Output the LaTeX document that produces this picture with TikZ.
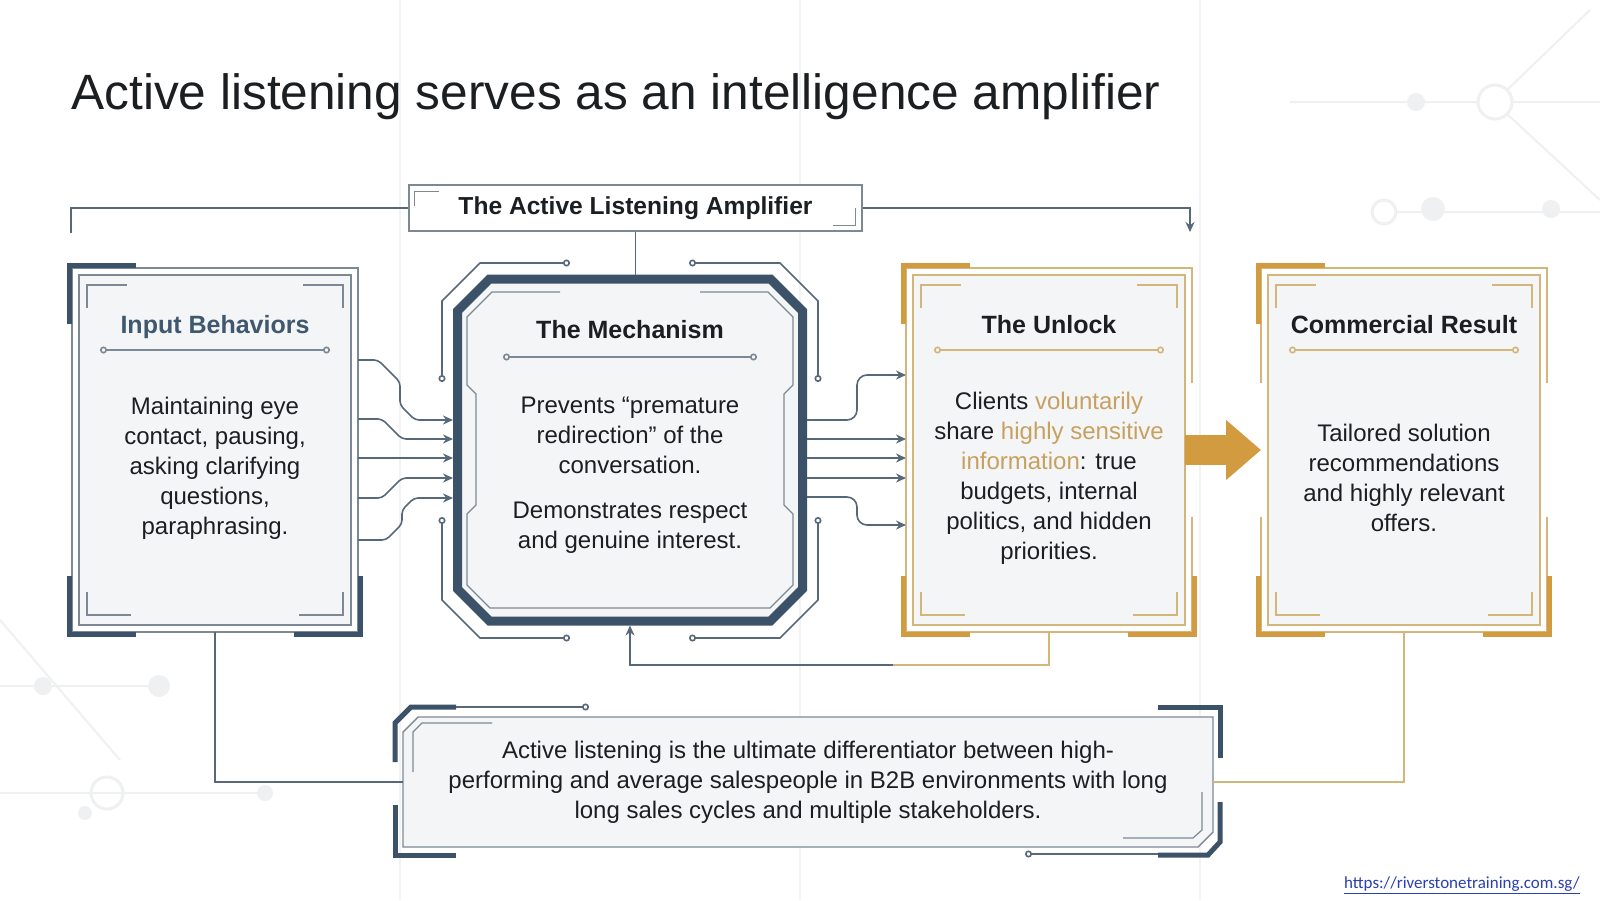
\documentclass[tikz,border=0pt]{standalone}
\usepackage{fontspec}
\setmainfont{Liberation Sans}
\newfontfamily\urlfont{Carlito}
\usetikzlibrary{arrows.meta,positioning}
\definecolor{inkblack}{HTML}{1C1F22}
\definecolor{slatedark}{HTML}{3C5268}
\definecolor{slatetext}{HTML}{40586F}
\definecolor{wiregrey}{HTML}{56687A}
\definecolor{hairgrey}{HTML}{7D8895}
\definecolor{goldfill}{HTML}{D39B3F}
\definecolor{goldline}{HTML}{D4B57C}
\definecolor{goldtext}{HTML}{C8A060}
\definecolor{panelgrey}{HTML}{F3F5F6}
\definecolor{ghostgrey}{HTML}{EEF0F2}
\definecolor{gridgrey}{HTML}{F2F3F5}
\definecolor{linkblue}{HTML}{2B3FB5}

\newcommand{\cardframe}[3]{%
  \fill[panelgrey] ([shift={(3.5pt,3.5pt)}]#1.south west) rectangle ([shift={(-3.5pt,-3.5pt)}]#1.north east);
  \draw[#3,line width=0.6pt] ([shift={(3.5pt,3.5pt)}]#1.south west) rectangle ([shift={(-3.5pt,-3.5pt)}]#1.north east);
  \draw[#3,line width=0.6pt] ([shift={(7.5pt,-20pt)}]#1.north west) |- ++(20pt,11.5pt);
  \draw[#3,line width=0.6pt] ([shift={(-7.5pt,-20pt)}]#1.north east) |- ++(-20pt,11.5pt);
  \draw[#3,line width=0.6pt] ([shift={(7.5pt,20pt)}]#1.south west) |- ++(22pt,-11.5pt);
  \draw[#3,line width=0.6pt] ([shift={(-7.5pt,20pt)}]#1.south east) |- ++(-22pt,-11.5pt);
  \draw[#2,line width=2.5pt] ([shift={(-1.25pt,-28pt)}]#1.north west) |- ([shift={(32pt,1.25pt)}]#1.north west);
  \draw[#2,line width=2.5pt] ([shift={(-1.25pt,28pt)}]#1.south west) |- ([shift={(32pt,-1.25pt)}]#1.south west);
  \draw[#2,line width=2.5pt] ([shift={(1.25pt,28pt)}]#1.south east) |- ([shift={(-32pt,-1.25pt)}]#1.south east);
  \draw[#3,line width=0.8pt,{Circle[open,length=3.5pt]}-{Circle[open,length=3.5pt]}]
    ([shift={(14pt,-41pt)}]#1.north west) -- ([shift={(-14pt,-41pt)}]#1.north east);
}

\begin{document}
\begin{tikzpicture}[x=0.5pt,y=-0.5pt,
  card/.style={draw=#1,line width=0.6pt,fill=white,minimum width=143pt,
               minimum height=182pt,inner sep=0pt,outer sep=0pt},
  wire/.style={draw=wiregrey,line width=0.8pt},
  goldwire/.style={draw=goldline,line width=0.8pt},
  arrowtip/.style={-{Stealth[length=5pt,width=4.5pt]}},
  pinends/.style={{Circle[open,length=3.5pt]}-{Circle[open,length=3.5pt]}},
  ttl/.style={anchor=base,inner sep=0pt,text=inkblack,
              font=\bfseries\fontsize{12.5}{15}\selectfont},
  body/.style={align=center,inner sep=0pt,text=inkblack,
               font=\fontsize{12}{15}\selectfont}]

\useasboundingbox[fill=white] (0,0) rectangle (1600,900);

% faint backdrop
\draw[gridgrey,line width=0.6pt] (400,0) -- (400,900) (800,0) -- (800,900) (1200,0) -- (1200,900);
\draw[ghostgrey,line width=1pt] (1290,102) -- (1478,102) (1512,102) -- (1600,102)
  (1507,90) -- (1590,10) (1507,114) -- (1600,200) (1396,212) -- (1600,212)
  (0,686) -- (159,686) (0,793) -- (265,793) (0,620) -- (120,760);
\fill[ghostgrey] (1416,102) circle[radius=9] (1433,209) circle[radius=12] (1551,209) circle[radius=9]
  (43,686) circle[radius=9] (159,686) circle[radius=11] (265,793) circle[radius=8] (85,813) circle[radius=7];
\draw[ghostgrey,line width=1.5pt] (1495,102) circle[radius=17] (1384,212) circle[radius=12] (107,793) circle[radius=16];

% title
\node[anchor=base west,inner sep=0pt,text=inkblack,font=\fontsize{24.8}{30}\selectfont]
  (title) at (71,109) {Active listening serves as an intelligence amplifier};

% cards
\node[card=hairgrey] (input) at (215,450) {};
\cardframe{input}{slatedark}{hairgrey}
\node[ttl,text=slatetext] at ([yshift=-32.5pt]input.north) {Input Behaviors};
\node[body] at ([yshift=-9pt]input.center)
  {Maintaining eye\\ contact, pausing,\\ asking clarifying\\ questions,\\ paraphrasing.};

\node[card=goldline] (unlock) at (1049,450) {};
\cardframe{unlock}{goldfill}{goldline}
\node[ttl] at ([yshift=-32.5pt]unlock.north) {The Unlock};
\node[body] at ([yshift=-14pt]unlock.center)
  {Clients {\color{goldtext}voluntarily}\\ share {\color{goldtext}highly sensitive}\\
   {\color{goldtext}information}: true\\ budgets, internal\\ politics, and hidden\\ priorities.};

\node[card=goldline] (result) at (1404,450) {};
\cardframe{result}{goldfill}{goldline}
\node[ttl] at ([yshift=-32.5pt]result.north) {Commercial Result};
\node[body] at ([yshift=-14pt]result.center)
  {Tailored solution\\ recommendations\\ and highly relevant\\ offers.};

\draw[white,line width=1.6pt] ([yshift=33.5pt]unlock.east) -- ([yshift=-33.5pt]unlock.east)
  ([yshift=33.5pt]result.east) -- ([yshift=-33.5pt]result.east)
  ([yshift=33.5pt]result.west) -- ([yshift=-33.5pt]result.west);

% mechanism
\node[minimum width=177pt,minimum height=175.5pt,inner sep=0pt,outer sep=0pt] (mech) at (630,450) {};
\draw[slatedark,line width=4.5pt,fill=panelgrey]
  (457.5,311) -- (457.5,589) -- (489.5,621) -- (770.5,621) -- (802.5,589)
  -- (802.5,311) -- (770.5,279) -- (489.5,279) -- cycle;
\draw[hairgrey,line width=0.6pt] (560,292) -- (492,292) -- (467,317) -- (467,385) -- (476,394)
  -- (476,505) -- (467,514) -- (467,585) -- (490,608) -- (770,608) -- (793,585) -- (793,514)
  -- (784,505) -- (784,394) -- (793,385) -- (793,317) -- (768,292) -- (700,292);
\draw[wire,pinends] (570,263) -- (480,263) -- (442,301) -- (442,382);
\draw[wire,pinends] (689,263) -- (780,263) -- (818,301) -- (818,382);
\draw[wire,pinends] (442,517) -- (442,600) -- (480,638) -- (570,638);
\draw[wire,pinends] (818,517) -- (818,600) -- (780,638) -- (689,638);
\node[ttl] at ([yshift=-31.75pt]mech.north) {The Mechanism};
\draw[hairgrey,line width=0.8pt,pinends]
  ([shift={(25pt,-41.25pt)}]mech.north west) -- ([shift={(-25pt,-41.25pt)}]mech.north east);
\node[body] at ([yshift=-12.5pt]mech.center)
  {Prevents “premature\\ redirection” of the\\ conversation.\\[7.5pt]
   Demonstrates respect\\ and genuine interest.};

% header
\node[draw=hairgrey,line width=0.7pt,fill=white,minimum width=226.5pt,minimum height=23pt,
  inner sep=0pt,text=inkblack,font=\bfseries\fontsize{12.3}{15}\selectfont]
  (hdr) at (635.5,208) {The Active Listening Amplifier};
\draw[hairgrey,line width=0.6pt] ([shift={(3pt,-11pt)}]hdr.north west) |- ++(12.5pt,7.5pt);
\draw[hairgrey,line width=0.6pt] ([shift={(-3.5pt,12pt)}]hdr.south east) |- ++(-11.5pt,-9pt);
\coordinate (lefttap) at (71,233);
\coordinate (righttap) at (1190,232);
\draw[wire] (hdr.west) -| (lefttap);
\draw[wire,arrowtip] (hdr.east) -| (righttap);
\draw[wire] (hdr.south) -- (hdr.south |- mech.north);

% input -> mechanism
\draw[wire,arrowtip,rounded corners=2pt] ([yshift=45pt]input.east) -- ++(10pt,0)
  -- ++(11pt,-11pt) -- ++(0,-11.5pt) -- ++(7.5pt,-7.5pt) -- ([yshift=15pt]mech.west);
\draw[wire,arrowtip,rounded corners=2pt] ([yshift=15.5pt]input.east) -- ++(12pt,0)
  -- ++(10pt,-10pt) -- ([yshift=5.5pt]mech.west);
\draw[wire,arrowtip] ([yshift=-4pt]input.east) -- ([yshift=-4pt]mech.west);
\draw[wire,arrowtip,rounded corners=2pt] ([yshift=-24pt]input.east) -- ++(12pt,0)
  -- ++(10pt,10pt) -- ([yshift=-14pt]mech.west);
\draw[wire,arrowtip,rounded corners=2pt] ([yshift=-45pt]input.east) -- ++(14pt,0)
  -- ++(8pt,8pt) -- ++(0,7pt) -- ++(6pt,6pt) -- ([yshift=-24pt]mech.west);

% mechanism -> unlock
\draw[wire,arrowtip,rounded corners=5pt] ([yshift=15pt]mech.east) -- ++(25pt,0)
  -- ++(0,22.5pt) -- ([yshift=37.5pt]unlock.west);
\draw[wire,arrowtip] ([yshift=5.5pt]mech.east) -- ([yshift=5.5pt]unlock.west);
\draw[wire,arrowtip] ([yshift=-4pt]mech.east) -- ([yshift=-4pt]unlock.west);
\draw[wire,arrowtip] ([yshift=-14pt]mech.east) -- ([yshift=-14pt]unlock.west);
\draw[wire,arrowtip,rounded corners=5pt] ([yshift=-23.5pt]mech.east) -- ++(25pt,0)
  -- ++(0,-14pt) -- ([yshift=-37.5pt]unlock.west);

% unlock -> result
\draw[goldfill,line width=15pt,-{Triangle[length=17.5pt,width=29pt]},shorten <=-3.5pt]
  (unlock.east) -- (result.west);

% feedback
\coordinate (fbturn) at (893,665);
\draw[goldwire] (unlock.south) |- (fbturn);
\draw[wire,arrowtip] (fbturn) -| (mech.south);

% bottom note
\node[minimum width=405pt,minimum height=65pt,inner sep=0pt,outer sep=0pt] (note) at (808,782) {};
\draw[hairgrey,line width=0.7pt,fill=panelgrey] ([yshift=-7.5pt]note.north west) -- (note.south west)
  -- ([xshift=-7.5pt]note.south east) -- ([yshift=7.5pt]note.south east) -- (note.north east)
  -- ([xshift=7.5pt]note.north west) -- cycle;
\draw[hairgrey,line width=0.6pt] ([shift={(5pt,-27.5pt)}]note.north west) -- ([shift={(5pt,-7.5pt)}]note.north west)
  -- ([shift={(9.5pt,-3pt)}]note.north west) -- ([shift={(44.5pt,-3pt)}]note.north west);
\draw[hairgrey,line width=0.6pt] ([shift={(-5.5pt,27.5pt)}]note.south east) -- ([shift={(-5.5pt,8.5pt)}]note.south east)
  -- ([shift={(-10pt,4.5pt)}]note.south east) -- ([shift={(-45pt,4.5pt)}]note.south east);
\draw[slatedark,line width=2.5pt] ([shift={(-4pt,-22.5pt)}]note.north west) -- ([shift={(-4pt,-3pt)}]note.north west)
  -- ([shift={(4pt,5pt)}]note.north west) -- ([shift={(26.5pt,5pt)}]note.north west);
\draw[slatedark,line width=2.5pt] ([shift={(-4pt,21pt)}]note.south west) |- ([shift={(26.5pt,-4pt)}]note.south west);
\draw[slatedark,line width=2.5pt] ([shift={(-27.5pt,5pt)}]note.north east) -| ([shift={(3.5pt,-20.5pt)}]note.north east);
\draw[slatedark,line width=2.5pt] ([shift={(3.5pt,22.5pt)}]note.south east) -- ([shift={(3.5pt,2.5pt)}]note.south east)
  -- ([shift={(-2.5pt,-4pt)}]note.south east) -- ([shift={(-27.5pt,-4pt)}]note.south east);
\draw[wire,-{Circle[open,length=3.5pt]}] ([shift={(26.5pt,5pt)}]note.north west) -- ([shift={(93pt,5pt)}]note.north west);
\draw[wire,{Circle[open,length=3.5pt]}-] ([shift={(-94pt,-3.5pt)}]note.south east) -- ([shift={(-27.5pt,-3.5pt)}]note.south east);
\node[body] (notetext) at (note.center)
  {Active listening is the ultimate differentiator between high-\\
   performing and average salespeople in B2B environments with long\\
   long sales cycles and multiple stakeholders.};

\draw[wire] (input.south) |- (note.west);
\draw[goldwire] (result.south) |- (note.east);

% link
\node[anchor=base east,inner sep=0pt,text=linkblue,font=\urlfont\fontsize{8.5}{10}\selectfont]
  (url) at (1580,888) {\underline{https://riverstonetraining.com.sg/}};
\end{tikzpicture}
\end{document}
